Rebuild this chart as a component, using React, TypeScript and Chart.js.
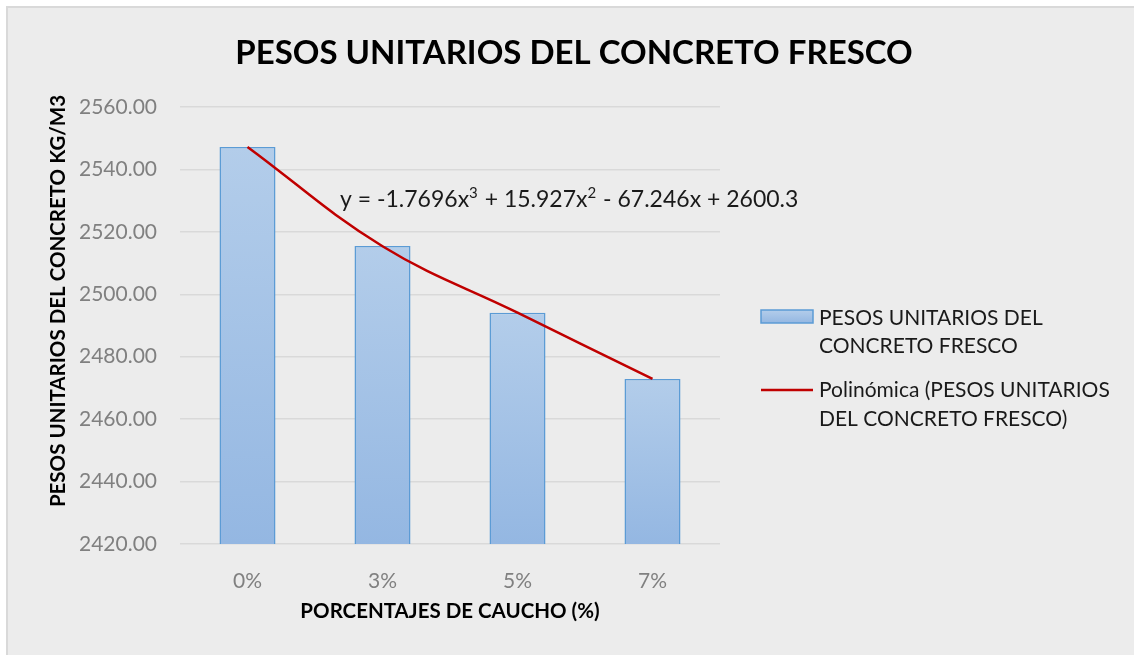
import React, { useEffect, useRef } from 'react';
import { Chart, registerables } from 'chart.js';

Chart.register(...registerables);

const categories = ['0%', '3%', '5%', '7%'];
const pesosValues = [2547.2, 2515.5, 2494.1, 2472.9];
const trendValues = [2547.2, 2515.4, 2494.1, 2472.9];
const yMin = 2420;
const yMax = 2560;
const yStep = 20;
const chartTitle = 'PESOS UNITARIOS DEL CONCRETO FRESCO';
const yTitle = 'PESOS UNITARIOS DEL CONCRETO KG/M3';
const xTitle = 'PORCENTAJES DE CAUCHO (%)';
const seriesLegend = ['PESOS UNITARIOS DEL', 'CONCRETO FRESCO'];
const trendLegend = ['Polinómica (PESOS UNITARIOS', 'DEL CONCRETO FRESCO)'];
// equation pieces: [text, isSuperscript]
const equationParts: [string, boolean][] = [
  ['y = -1.7696x', false],
  ['3', true],
  [' + 15.927x', false],
  ['2', true],
  [' - 67.246x + 2600.3', false],
];

const FONT = 'Lato, "Open Sans", sans-serif';
const TOP_COLOR = '#b3cdea';
const BOTTOM_COLOR = '#94b7e2';
const BAR_BORDER = '#5b9bd5';
const TREND_COLOR = '#c00000';

function barGradient(ctx: CanvasRenderingContext2D, top: number, bottom: number) {
  const g = ctx.createLinearGradient(0, top, 0, bottom);
  g.addColorStop(0, TOP_COLOR);
  g.addColorStop(1, BOTTOM_COLOR);
  return g;
}

const overlayPlugin = {
  id: 'overlay',
  afterDraw(chart: any) {
    const ctx: CanvasRenderingContext2D = chart.ctx;
    ctx.save();
    // Title
    ctx.fillStyle = '#000';
    ctx.font = `bold 33px ${FONT}`;
    ctx.textAlign = 'center';
    ctx.textBaseline = 'middle';
    ctx.fillText(chartTitle, 566, 45);

    // Y title
    ctx.save();
    ctx.translate(50, 293);
    ctx.rotate(-Math.PI / 2);
    ctx.font = `bold 20.5px ${FONT}`;
    ctx.fillStyle = '#000';
    ctx.fillText(yTitle, 0, 0);
    ctx.restore();

    // Equation
    ctx.fillStyle = '#1a1a1a';
    ctx.textAlign = 'left';
    ctx.textBaseline = 'alphabetic';
    let ex = 332;
    const baseY = 199;
    for (const [txt, sup] of equationParts) {
      ctx.font = sup ? `15px ${FONT}` : `23px ${FONT}`;
      ctx.fillText(txt, ex, sup ? baseY - 9 : baseY);
      ex += ctx.measureText(txt).width + (sup ? 1 : 0);
    }

    // Legend
    ctx.textBaseline = 'middle';
    const lx = 753;
    const tx = 811;
    ctx.fillStyle = barGradient(ctx, 302, 315);
    ctx.fillRect(lx, 302, 52, 13);
    ctx.strokeStyle = BAR_BORDER;
    ctx.lineWidth = 1.5;
    ctx.strokeRect(lx, 302, 52, 13);
    ctx.font = `21px ${FONT}`;
    ctx.fillStyle = '#1a1a1a';
    ctx.fillText(seriesLegend[0], tx, 310);
    ctx.fillText(seriesLegend[1], tx, 338);

    ctx.strokeStyle = TREND_COLOR;
    ctx.lineWidth = 2.5;
    ctx.beginPath();
    ctx.moveTo(lx, 382);
    ctx.lineTo(lx + 52, 382);
    ctx.stroke();
    ctx.fillText(trendLegend[0], tx, 382);
    ctx.fillText(trendLegend[1], tx, 411);
    ctx.restore();
  },
};

export default function App() {
  const canvasRef = useRef<HTMLCanvasElement | null>(null);

  useEffect(() => {
    if (!canvasRef.current) return;
    const chart = new Chart(canvasRef.current, {
      type: 'bar',
      data: {
        labels: categories,
        datasets: [
          {
            type: 'line',
            label: trendLegend.join(' '),
            data: trendValues,
            borderColor: TREND_COLOR,
            borderWidth: 2.5,
            pointRadius: 0,
            tension: 0.4,
            fill: false,
            order: 0,
          } as any,
          {
            type: 'bar',
            label: seriesLegend.join(' '),
            data: pesosValues,
            backgroundColor: (c: any) => {
              const ch = c.chart;
              if (!ch.chartArea || c.raw == null) return TOP_COLOR;
              const ys = ch.scales.y;
              return barGradient(ch.ctx, ys.getPixelForValue(c.raw), ys.getPixelForValue(yMin));
            },
            borderColor: BAR_BORDER,
            borderWidth: 1.5,
            barPercentage: 0.415,
            categoryPercentage: 1,
            order: 1,
          },
        ],
      },
      options: {
        animation: false,
        responsive: true,
        maintainAspectRatio: false,
        layout: { padding: { top: 99, right: 424, bottom: 20, left: 0 } },
        plugins: {
          legend: { display: false },
          title: { display: false },
          tooltip: { enabled: false },
        },
        scales: {
          x: {
            grid: { display: false },
            border: { display: false },
            ticks: { color: '#808080', font: { family: FONT, size: 21 }, padding: 17 },
            title: {
              display: true,
              text: xTitle,
              color: '#000',
              font: { family: FONT, size: 20.5, weight: 'bold' },
              padding: { top: 20, bottom: 20 },
            },
            afterFit: (s: any) => {
              s.height = 100;
            },
          },
          y: {
            min: yMin,
            max: yMax,
            border: { display: false },
            grid: { color: '#d9d9d9', lineWidth: 1.5, drawTicks: false },
            ticks: {
              stepSize: yStep,
              color: '#808080',
              font: { family: FONT, size: 21 },
              padding: 23,
              callback: (v: any) => Number(v).toFixed(2),
            },
            afterFit: (s: any) => {
              s.width = 172;
            },
          },
        },
      },
      plugins: [overlayPlugin],
    });
    return () => chart.destroy();
  }, []);

  return (
    <div
      style={{
        position: 'fixed',
        left: 6,
        top: 6,
        width: 1140,
        height: 660,
        boxSizing: 'border-box',
        border: '2px solid #d9d9d9',
        background: '#ececec',
      }}
    >
      <canvas ref={canvasRef} />
    </div>
  );
}
